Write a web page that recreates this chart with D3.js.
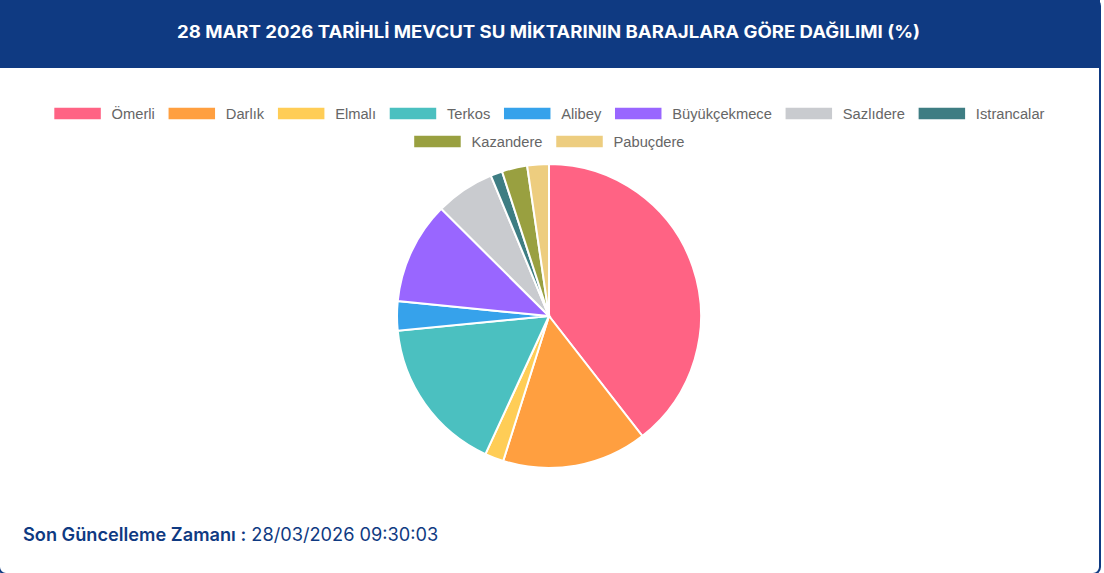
<!DOCTYPE html>
<html>
<head>
<meta charset="utf-8">
<script src="https://cdn.jsdelivr.net/npm/d3@7"></script>
<style>
  html, body { margin: 0; padding: 0; background: #fff; overflow: hidden; }
  #card {
    position: absolute; left: -2px; top: -2px; width: 1103px; height: 577px;
    border: 2px solid #0f3a82; border-radius: 8px; overflow: hidden; box-sizing: border-box;
  }
  svg { position: absolute; left: 0; top: 0; }
</style>
</head>
<body>
<div id="card"></div>
<svg id="chart" width="1104" height="573"></svg>
<script>
const title = "28 MART 2026 TARİHLİ MEVCUT SU MİKTARININ BARAJLARA GÖRE DAĞILIMI (%)";
const dams = ["Ömerli", "Darlık", "Elmalı", "Terkos", "Alibey", "Büyükçekmece", "Sazlıdere", "Istrancalar", "Kazandere", "Pabuçdere"];
const shares = [39.5, 15.4, 2.0, 16.6, 3.1, 10.9, 6.3, 1.25, 2.7, 2.3];
const palette = ["#ff6384", "#ff9f40", "#ffcd56", "#4bc0c0", "#36a2eb", "#9966ff", "#c9cbcf", "#3e7d83", "#99a040", "#edcd7f"];
const footerLabel = "Son Güncelleme Zamanı :";
const footerValue = "28/03/2026 09:30:03";

const navy = "#0f3a82";
const svg = d3.select("#chart");

// header band
svg.append("rect")
  .attr("x", 0).attr("y", 0)
  .attr("width", 1100).attr("height", 68)
  .attr("fill", navy);

svg.append("text")
  .attr("x", 548.5).attr("y", 32)
  .attr("text-anchor", "middle")
  .attr("dominant-baseline", "central")
  .attr("fill", "#fff")
  .style("font-family", "Inter, 'Noto Sans', sans-serif")
  .style("font-weight", 700)
  .style("font-size", "17px")
  .attr("textLength", 743)
  .attr("lengthAdjust", "spacingAndGlyphs")
  .text(title);

const color = d3.scaleOrdinal().domain(dams).range(palette);

// legend (wrapped rows, centred like chart.js)
const legendFont = "14.7px 'Liberation Sans', Arial, sans-serif";
const ctx = document.createElement("canvas").getContext("2d");
ctx.font = legendFont;
const boxW = 48, boxH = 13, boxGap = 10, itemGap = 13, maxRow = 1040;
const items = dams.map(d => ({ name: d, w: boxW + boxGap + ctx.measureText(d).width }));
const rows = [[]];
let rowW = 0;
items.forEach(it => {
  const add = (rows[rows.length - 1].length ? itemGap : 0) + it.w;
  if (rowW + add > maxRow && rows[rows.length - 1].length) {
    rows.push([it]); rowW = it.w;
  } else {
    rows[rows.length - 1].push(it); rowW += add;
  }
});

const legend = svg.append("g");
rows.forEach((row, ri) => {
  const total = d3.sum(row, r => r.w) + itemGap * (row.length - 1);
  let x = 549 - total / 2;
  const cy = 113.5 + ri * 28;
  row.forEach(it => {
    const g = legend.append("g").attr("transform", `translate(${x},${cy})`);
    g.append("rect")
      .attr("x", 0).attr("y", -boxH / 2)
      .attr("width", boxW).attr("height", boxH)
      .attr("fill", color(it.name))
      .attr("stroke", "#fff").attr("stroke-width", 1.5);
    g.append("text")
      .attr("x", boxW + boxGap).attr("y", 0)
      .attr("dominant-baseline", "central")
      .attr("fill", "#666")
      .style("font", legendFont)
      .text(it.name);
    x += it.w + itemGap;
  });
});

// pie
const cx = 549, cy = 316, r = 152;
const pie = d3.pie().sort(null).value(d => d.v);
const arc = d3.arc().innerRadius(0).outerRadius(r);
const data = dams.map((d, i) => ({ name: d, v: shares[i] }));

svg.append("g")
  .attr("transform", `translate(${cx},${cy})`)
  .selectAll("path")
  .data(pie(data))
  .join("path")
  .attr("d", arc)
  .attr("fill", d => color(d.data.name))
  .attr("stroke", "#fff")
  .attr("stroke-width", 2);

// footer
const foot = svg.append("text")
  .attr("x", 23).attr("y", 534)
  .attr("dominant-baseline", "central")
  .attr("fill", navy)
  .style("font-family", "Inter, 'Noto Sans', sans-serif")
  .style("font-size", "18.2px");
foot.append("tspan").style("font-weight", 600).text(footerLabel);
foot.append("tspan").style("font-weight", 400).text(" " + footerValue);
</script>
</body>
</html>
